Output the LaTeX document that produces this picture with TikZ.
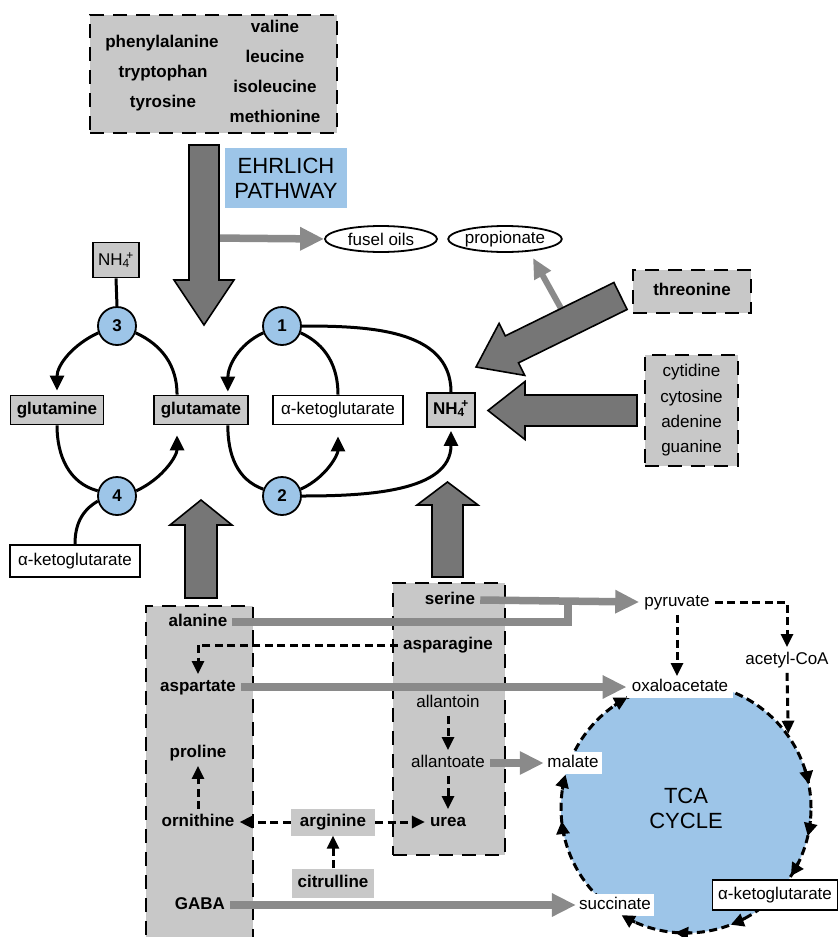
\documentclass[tikz,border=0pt]{standalone}
\usepackage{fontspec}
\setmainfont{Liberation Sans}
\usetikzlibrary{arrows.meta,calc,shapes.geometric}
\definecolor{boxgrey}{RGB}{200,200,200}
\definecolor{arrgrey}{RGB}{118,118,118}
\definecolor{lngrey}{RGB}{138,138,138}
\definecolor{enzblue}{RGB}{157,197,232}
\newcommand\fatarrow[5]{%
  \coordinate (fa-b) at ($(#2)!#5!(#1)$);
  \draw[fat] ($(#1)!#3!90:(#2)$) -- ($(fa-b)!#3!90:(#2)$) -- ($(fa-b)!#4!90:(#2)$) -- (#2)
    -- ($(fa-b)!#4!-90:(#2)$) -- ($(fa-b)!#3!-90:(#2)$) -- ($(#1)!#3!-90:(#2)$) -- cycle;}
\newcommand\cyctip[2]{%
  \draw[ctip] ($(tca.center)+(#1:125)$) arc[start angle=#1, end angle=#2, radius=125];}
\newcommand\nhfour{NH\textsubscript{4}\kern-0.2em\textsuperscript{+}}
\begin{document}
\begin{tikzpicture}[x=1pt,y=1pt,
  lbl/.style={font=\fontsize{17}{20}\selectfont, text height=12pt, text depth=3.5pt, inner sep=5pt},
  blbl/.style={lbl, font=\fontsize{17}{20}\selectfont\bfseries},
  gbox/.style={blbl, draw, fill=boxgrey, line width=1.8pt, inner sep=4pt, minimum height=29pt},
  wbox/.style={lbl, draw, fill=white, line width=1.8pt, inner sep=4pt, minimum height=29pt},
  dbox/.style={draw, fill=boxgrey, line width=2.2pt, dash pattern=on 14pt off 9pt},
  enz/.style={circle, draw, fill=enzblue, line width=1.8pt, minimum size=38pt, inner sep=0pt, font=\fontsize{17}{20}\selectfont\bfseries},
  curv/.style={line width=3pt},
  carr/.style={curv, -{Triangle[length=15pt,width=14pt]}},
  fat/.style={fill=arrgrey, draw=black, line width=1.6pt, line join=miter},
  gline/.style={draw=lngrey, line width=7.5pt},
  garr/.style={gline, -{Triangle[length=24pt,width=22pt]}},
  dline/.style={line width=3pt, dash pattern=on 8pt off 4.5pt},
  darr/.style={dline, -{Triangle[length=13pt,width=12pt]}},
  ctip/.style={line width=3pt, -{Triangle[length=13pt,width=13pt]}},
  oval/.style={ellipse, draw, line width=1.8pt, font=\fontsize{17}{20}\selectfont, inner sep=0pt, minimum height=26pt},
  big/.style={font=\fontsize{22}{25}\selectfont, align=center},
]
\useasboundingbox (0,0) rectangle (839,-937);

% ---------- source boxes ----------
\node[dbox, minimum width=247pt, minimum height=118pt] (src) at (213.5,-74) {};
\node[blbl] (phe) at (162,-43) {phenylalanine};
\node[blbl] (trp) at (163,-73) {tryptophan};
\node[blbl] (tyr) at (163,-103) {tyrosine};
\node[blbl] (val) at (275,-28) {valine};
\node[blbl] (leu) at (275,-58) {leucine};
\node[blbl] (ile) at (275,-88) {isoleucine};
\node[blbl] (met) at (275,-118) {methionine};

\node[big, fill=enzblue, minimum width=122pt, minimum height=60pt, inner sep=2pt] (ehr) at (286,-178) {EHRLICH\\PATHWAY};

\node[oval, minimum width=112pt] (fusel) at (381,-239) {fusel oils};
\node[oval, minimum width=110pt] (prop) at (505,-239) {propionate};

\node[dbox, blbl, minimum width=118pt, minimum height=43pt] (thr) at (692,-291.5) {threonine};
\node[dbox, font=\fontsize{17}{25.3}\selectfont, align=center, minimum width=93pt, minimum height=111pt] (bases) at (691.5,-410.5) {cytidine\\cytosine\\adenine\\guanine};

% lower dashed boxes
\node[dbox, minimum width=107pt, minimum height=345pt, anchor=north] (leftbox) at (199.5,-605) {};
\node[dbox, minimum width=112pt, minimum height=272pt] (serbox) at (449,-719) {};

% ---------- TCA circle ----------
\node[circle, fill=enzblue, draw, dline, minimum size=250pt, inner sep=0pt, big] (tca) at (686,-808) {TCA\\CYCLE};

% ---------- coordinates for big arrows ----------
\coordinate (ehrtail) at (204,-145);
\coordinate (ehrtip) at (204,-325);
\coordinate (ehrbranch) at (212,-238);
\coordinate (thrtail) at (620.5,-296);
\coordinate (thrtip) at (476,-367);
\coordinate (thrbranch) at (563,-312);
\coordinate (proptip) at (533,-258);
\coordinate (bastail) at (637,-410.5);
\coordinate (bastip) at (488,-410.5);
\coordinate (ltail) at (201,-598);
\coordinate (ltip) at (201,-500);
\coordinate (rtail) at (447.5,-577);
\coordinate (rtip) at (447.5,-482);

% grey side branches (under the fat arrows)
\draw[garr] (ehrbranch) -- (fusel.west);
\draw[gline, line width=6pt, -{Triangle[length=20pt,width=18pt]}] (thrbranch) -- (proptip);

% fat arrows
\fatarrow{ehrtail}{ehrtip}{15pt}{30pt}{45pt}
\fatarrow{thrtail}{thrtip}{15pt}{29pt}{40pt}
\fatarrow{bastail}{bastip}{15.5pt}{29pt}{37pt}
\fatarrow{ltail}{ltip}{16pt}{31pt}{25pt}
\fatarrow{rtail}{rtip}{15.5pt}{30.5pt}{23pt}

% ---------- glutamate cycles ----------
\node[draw, fill=boxgrey, line width=1.8pt, font=\fontsize{17}{20}\selectfont, minimum width=46pt, minimum height=35pt, inner sep=1pt] (nh4l) at (116,-260) {\nhfour};
\node[gbox, minimum width=48pt, minimum height=34pt, inner sep=1pt] (nh4) at (451,-410) {\nhfour};
\node[enz] (c3) at (117,-326) {3};
\node[enz] (c1) at (282,-326) {1};
\node[enz] (c4) at (117,-496) {4};
\node[enz] (c2) at (282,-496) {2};
\node[gbox, minimum width=93pt] (gln) at (57,-410) {glutamine};
\node[gbox, minimum width=94pt] (glu) at (201,-410) {glutamate};
\node[wbox, minimum width=130pt] (akgA) at (338,-410) {α-ketoglutarate};
\node[wbox, minimum width=130pt, minimum height=32pt] (akgB) at (75,-561) {α-ketoglutarate};

\coordinate (gluNL) at ($(glu.north west)!0.25!(glu.north east)$);
\coordinate (gluNR) at ($(glu.north west)!0.78!(glu.north east)$);
\coordinate (gluSL) at ($(glu.south west)!0.25!(glu.south east)$);
\coordinate (gluSR) at ($(glu.south west)!0.78!(glu.south east)$);

\draw[curv] (nh4l.south) -- (c3.north);
\draw[carr, shorten >=4pt] (c3.200) to[out=205,in=90] (gln.north);
\draw[curv] (c3.-20) to[out=-25,in=90] (gluNL);
\draw[carr, shorten >=3pt] (c1.200) to[out=205,in=90] (gluNR);
\draw[curv] (c1.-20) to[out=-25,in=90] (akgA.north);
\draw[curv] (c1.east) to[out=0,in=90] (nh4.north);
\draw[curv] (gluSR) to[out=-90,in=160] (c2.160);
\draw[carr, shorten >=11pt] (c2.20) to[out=25,in=-90] (akgA.south);
\draw[carr, shorten >=3pt] (c2.east) to[out=0,in=-90] (nh4.south);
\draw[curv] (gln.south) to[out=-90,in=165] (c4.165);
\draw[carr, shorten >=10pt] (c4.15) to[out=25,in=-90] (gluSL);
\draw[curv] (c4.195) to[out=210,in=90] (akgB.north);

% ---------- lower metabolites ----------
\node[blbl] (ala) at (198,-622) {alanine};
\node[blbl] (asp) at (198,-687) {aspartate};
\node[blbl] (pro) at (198,-753) {proline};
\node[blbl] (orn) at (198,-822) {ornithine};
\node[blbl] (gaba) at (200,-905) {GABA};

\node[blbl] (ser) at (450,-600) {serine};
\node[blbl] (asn) at (448,-645) {asparagine};
\node[lbl] (alln) at (448,-703) {allantoin};
\node[lbl] (allt) at (448,-763) {allantoate};
\node[blbl] (urea) at (448,-822) {urea};

\node[blbl, fill=boxgrey, minimum width=84pt, minimum height=27pt] (arg) at (333,-822) {arginine};
\node[blbl, fill=boxgrey, minimum width=82pt, minimum height=29pt] (cit) at (333,-883) {citrulline};

\node[lbl] (pyr) at (677,-602) {pyruvate};
\node[lbl] (acoa) at (787,-660) {acetyl-CoA};
\node[lbl, fill=white, inner ysep=3pt] (oaa) at (680,-687) {oxaloacetate};
\node[lbl, fill=white, inner ysep=3pt, inner xsep=3.5pt] (mal) at (573,-763) {malate};
\node[lbl, fill=white, inner ysep=3pt, inner xsep=3pt] (suc) at (615,-905) {succinate};
\node[wbox, minimum width=125pt, minimum height=30pt] (akgC) at (775,-895) {α-ketoglutarate};

% grey flux lines
\coordinate (alamerge) at (568,-600);
\draw[gline] (ala.east) -| (alamerge);
\draw[garr] (ser.east) -- (pyr.west);
\draw[garr] (asp.east) -- (oaa.west);
\draw[garr] (allt.east) -- (mal.west);
\draw[garr] (gaba.east) -- (suc.west);

% dashed conversions
\draw[darr] (asn.west) -| (asp.north);
\draw[darr] (orn.north) -- (pro.south);
\draw[darr] (arg.west) -- (orn.east);
\draw[darr] (arg.east) -- (urea.west);
\draw[darr] (cit.north) -- (arg.south);
\draw[darr] (alln.south) -- (allt.north);
\draw[darr] (allt.south) -- (urea.north);
\draw[darr] (pyr.south) -- (pyr.south |- oaa.north);
\draw[darr] (pyr.east) -| (acoa.north);
\draw[darr] (acoa.south) -- (tca.36);

% TCA cycle arrowheads (clockwise)
\cyctip{18}{11}
\cyctip{-6}{-13}
\cyctip{-26}{-33}
\cyctip{-62}{-69}
\cyctip{-88}{-95}
\cyctip{-114}{-121}
\cyctip{193}{186}
\cyctip{171.5}{164.5}
\cyctip{125}{118}
\end{tikzpicture}
\end{document}
